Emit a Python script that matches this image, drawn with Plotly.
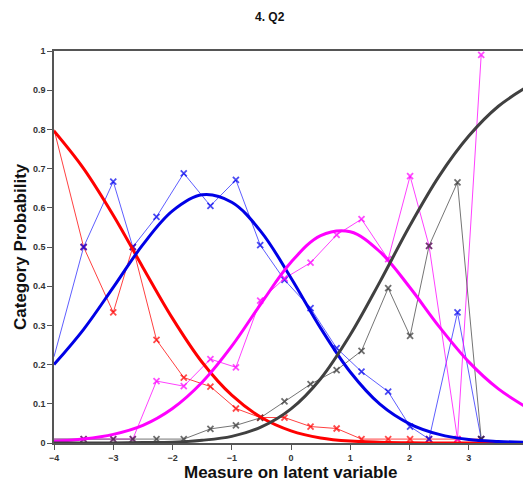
import plotly.graph_objects as go

# expected (model) curves, every 0.5 logits
theta = [-4, -3.5, -3, -2.5, -2, -1.5, -1, -0.5, 0, 0.5, 1, 1.5, 2, 2.5, 3, 3.5, 4]
exp_cat0 = [0.796, 0.700, 0.581, 0.448, 0.318, 0.206, 0.122, 0.065, 0.031, 0.013, 0.005, 0.002, 0.0005, 0.0001, 0, 0, 0]
exp_cat1 = [0.200, 0.290, 0.397, 0.506, 0.592, 0.633, 0.614, 0.538, 0.421, 0.293, 0.181, 0.099, 0.049, 0.022, 0.009, 0.004, 0.0015]
exp_cat2 = [0.004, 0.010, 0.022, 0.045, 0.088, 0.155, 0.247, 0.357, 0.461, 0.529, 0.539, 0.488, 0.398, 0.297, 0.207, 0.138, 0.089]
exp_cat3 = [0, 0, 0, 0.001, 0.002, 0.007, 0.017, 0.041, 0.087, 0.164, 0.276, 0.411, 0.553, 0.681, 0.783, 0.859, 0.910]

# observed proportions per class interval
obs_x = [-4, -3.5, -3.0, -2.67, -2.27, -1.81, -1.36, -0.93, -0.52, -0.11, 0.33, 0.77, 1.19, 1.64, 2.01, 2.33, 2.81, 3.21]
obs_cat0 = [0.80, 0.50, 0.333, 0.50, 0.263, 0.167, 0.144, 0.088, 0.065, 0.065, 0.042, 0.037, 0.01, 0.01, 0.01, 0.01, 0.01, 0.01]
obs_cat1 = [0.22, 0.50, 0.667, 0.50, 0.577, 0.688, 0.605, 0.671, 0.505, 0.416, 0.344, 0.242, 0.182, 0.131, 0.042, 0.01, 0.333, 0.01]
obs_cat2 = [0.01, 0.01, 0.01, 0.01, 0.158, 0.145, 0.214, 0.193, 0.363, 0.42, 0.46, 0.531, 0.571, 0.469, 0.681, 0.503, 0.01, 0.99]
obs_cat3 = [0.01, 0.01, 0.01, 0.01, 0.01, 0.01, 0.036, 0.045, 0.064, 0.106, 0.15, 0.186, 0.235, 0.395, 0.273, 0.503, 0.665, 0.01]

thick_cols = ["#ff0000", "#0000e6", "#ff00ff", "#404040"]
thin_cols = ["rgba(255,0,0,0.75)", "rgba(40,40,255,0.75)", "rgba(255,0,255,0.75)", "rgba(70,70,70,0.75)"]
mark_cols = ["#ff0000", "#0000ee", "#ff00ff", "#333333"]

fig = go.Figure()

# observed first (thin lines with x markers), first point has no marker (it sits on the axis)
msizes = [0] + [6] * (len(obs_x) - 1)
for ys, lc, mc in zip([obs_cat0, obs_cat1, obs_cat2, obs_cat3], thin_cols, mark_cols):
    fig.add_trace(go.Scatter(x=obs_x, y=ys, mode="lines+markers",
                             line=dict(color=lc, width=1),
                             marker=dict(symbol="x-thin", size=msizes,
                                         line=dict(color=mc, width=1.8)),
                             showlegend=False))

for ys, c in zip([exp_cat0, exp_cat1, exp_cat2, exp_cat3], thick_cols):
    fig.add_trace(go.Scatter(x=theta, y=ys, mode="lines",
                             line=dict(color=c, width=3, shape="spline", smoothing=1.0),
                             showlegend=False))

# page body has an 8px margin, so the figure is a bit smaller than the window
fig.update_layout(
    width=523, height=483,
    margin=dict(l=46, r=3, t=43, b=48, autoexpand=False),
    plot_bgcolor="white", paper_bgcolor="white",
    font=dict(family="Liberation Sans, Arial, sans-serif", color="#222"),
)
fig.update_xaxes(range=[-4, 4], dtick=1, showgrid=False, zeroline=False, automargin=False,
                 showline=True, mirror=True, linecolor="#555", linewidth=1.5,
                 ticks="outside", ticklen=5, tickcolor="#555",
                 tickfont=dict(size=9, color="#333", weight="bold"))
fig.update_yaxes(range=[0, 1], dtick=0.1, showgrid=False, zeroline=False, automargin=False,
                 showline=True, mirror=True, linecolor="#555", linewidth=1.5,
                 ticks="outside", ticklen=5, tickcolor="#555",
                 tickfont=dict(size=9, color="#333", weight="bold"))

# titles as annotations so they sit where the original puts them
fig.add_annotation(text="<b>4. Q2</b>", xref="paper", yref="paper", x=0.456, y=1.0,
                   yanchor="middle", yshift=34, showarrow=False, font=dict(size=12, color="#111"))
fig.add_annotation(text="<b>Measure on latent variable</b>", xref="paper", yref="paper",
                   x=0.5, y=0, yanchor="top", yshift=-18, showarrow=False,
                   font=dict(size=17, color="#111"))
fig.add_annotation(text="<b>Category Probability</b>", xref="paper", yref="paper",
                   x=0, y=0.5, xanchor="center", yanchor="middle", xshift=-34, textangle=-90,
                   showarrow=False, font=dict(size=17, color="#111"))

fig.write_html("out.html")
